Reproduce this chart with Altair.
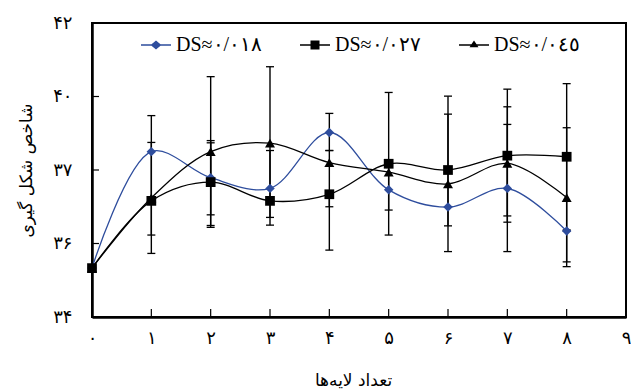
import json
import altair as alt
import pandas as pd

# ---------------- data ----------------
layers_x = [0, 1, 2, 3, 4, 5, 6, 7, 8]
series_names = ["DS≈۰/۰۱۸", "DS≈۰/۰۲۷", "DS≈۰/۰٤٥"]
series_colors = ["#2E4D9D", "#000000", "#000000"]

ds018 = [35.33, 38.50, 37.79, 37.50, 39.02, 37.46, 36.99, 37.50, 36.34]
ds027 = [35.33, 37.16, 37.67, 37.16, 37.34, 38.17, 38.00, 38.39, 38.36]
ds045 = [35.33, 37.24, 38.50, 38.73, 38.20, 37.94, 37.62, 38.18, 37.25]

ds018_low = [None, None, 36.78, 36.50, 38.53, 36.91, None, 35.78, 35.50]
ds018_high = [None, None, 38.80, 38.53, 39.54, 38.17, None, 39.24, 36.34]
ds027_low = [None, 35.73, 36.49, None, 35.82, 36.23, 36.48, 36.58, 36.37]
ds027_high = [None, 38.75, 38.74, None, 37.34, 40.11, 40.01, 40.20, 40.35]
ds045_low = [None, 36.23, 36.44, 36.71, 37.00, None, 35.78, 36.75, 35.37]
ds045_high = [None, 39.48, 40.54, 40.81, 38.53, None, 39.52, 39.72, 39.15]

x_tick_values = [0, 1, 2, 3, 4, 5, 6, 7, 8, 9]
x_tick_labels = ["۰", "۱", "۲", "۳", "۴", "۵", "۶", "۷", "۸", "۹"]
y_tick_values = [34, 36, 38, 40, 42]
y_tick_labels = ["۳۴", "۳۶", "۳۷", "۴۰", "۴۲"]

x_title = "تعداد لایه‌ها"
y_title = "شاخص شکل گیری"

# ---------------- tables ----------------
vals = [ds018, ds027, ds045]
lows = [ds018_low, ds027_low, ds045_low]
highs = [ds018_high, ds027_high, ds045_high]

rows, err_rows = [], []
for name, v, lo, hi in zip(series_names, vals, lows, highs):
    for i, x in enumerate(layers_x):
        rows.append({"x": x, "y": v[i], "series": name})
        if lo[i] is not None and hi[i] is not None:
            err_rows.append({"x": x, "low": lo[i], "high": hi[i], "series": name})
df = pd.DataFrame(rows)
err_df = pd.DataFrame(err_rows)
legend_df = pd.DataFrame({"legend": series_names})

W, H = 534, 294
digit_font = "DejaVu Sans"

x_expr = json.dumps(x_tick_labels, ensure_ascii=False) + "[indexof(" + json.dumps(x_tick_values) + ", datum.value)]"
y_expr = json.dumps(y_tick_labels, ensure_ascii=False) + "[indexof(" + json.dumps(y_tick_values) + ", datum.value)]"

x_scale = alt.Scale(domain=[0, 9], nice=False, zero=False)
y_scale = alt.Scale(domain=[34, 42], nice=False, zero=False)

x_axis = alt.Axis(values=x_tick_values, labelExpr=x_expr, ticks=False, grid=False,
                  domainColor="black", domainWidth=2.5, labelFont=digit_font,
                  labelFontSize=18, labelFontWeight="normal", labelColor="black", labelPadding=12,
                  labelFlush=False, labelOverlap=False,
                  title=x_title, titleFont=digit_font, titleFontSize=17,
                  titleFontWeight="normal", titleColor="black",
                  titleX=W / 2 - 6, titleY=63, titleBaseline="middle")
y_axis = alt.Axis(values=y_tick_values, labelExpr=y_expr, ticks=False, grid=False,
                  domainColor="black", domainWidth=2.5, labelFont=digit_font,
                  labelFontSize=18, labelFontWeight="normal", labelColor="black", labelPadding=20,
                  labelFlush=False, labelOverlap=False,
                  title=y_title, titleFont=digit_font, titleFontSize=17,
                  titleFontWeight="normal", titleColor="black",
                  titleX=-66, titleY=H / 2, titleBaseline="middle")

X = alt.X("x:Q", scale=x_scale, axis=x_axis)
Y = alt.Y("y:Q", scale=y_scale, axis=y_axis)

color_nolegend = alt.Color("series:N", scale=alt.Scale(domain=series_names, range=series_colors), legend=None)

err_rule = alt.Chart(err_df).mark_rule(color="black", strokeWidth=1.4).encode(
    x=X, y=alt.Y("low:Q", scale=y_scale, axis=y_axis), y2="high:Q")
err_cap_lo = alt.Chart(err_df).mark_tick(color="black", orient="horizontal", size=8, thickness=1.3, opacity=1).encode(
    x=X, y=alt.Y("low:Q", scale=y_scale, axis=y_axis))
err_cap_hi = alt.Chart(err_df).mark_tick(color="black", orient="horizontal", size=8, thickness=1.3, opacity=1).encode(
    x=X, y=alt.Y("high:Q", scale=y_scale, axis=y_axis))

lines = alt.Chart(df).mark_line(interpolate="catmull-rom", strokeWidth=1.3).encode(
    x=X, y=Y, color=color_nolegend, detail="series:N")

points = alt.Chart(df).mark_point(filled=True, opacity=1).encode(
    x=X, y=Y, color=color_nolegend,
    shape=alt.Shape("series:N", scale=alt.Scale(domain=series_names, range=["diamond", "square", "triangle-up"]), legend=None),
    size=alt.Size("series:N", scale=alt.Scale(domain=series_names, range=[90, 100, 70]), legend=None))

x_ticks = alt.Chart(pd.DataFrame({"x": x_tick_values[1:-1]})).mark_rule(color="black", strokeWidth=1.2).encode(
    x=X, y=alt.value(H), y2=alt.value(H - 8))
y_ticks = alt.Chart(pd.DataFrame({"y": y_tick_values[1:-1]})).mark_rule(color="black", strokeWidth=1.2).encode(
    y=Y, x=alt.value(0), x2=alt.value(7))

legend_paths = [
    "M-1,-0.045 L-0.3,-0.045 L0,-0.3 L0.3,-0.045 L1,-0.045 L1,0.045 L0.3,0.045 L0,0.3 L-0.3,0.045 L-1,0.045 Z",
    "M-1,-0.045 L-0.3,-0.045 L-0.3,-0.3 L0.3,-0.3 L0.3,-0.045 L1,-0.045 L1,0.045 L0.3,0.045 L0.3,0.3 L-0.3,0.3 L-0.3,0.045 L-1,0.045 Z",
    "M-1,-0.045 L-0.17,-0.045 L0,-0.3 L0.17,-0.045 L1,-0.045 L1,0.045 L0.23,0.045 L0.3,0.15 L-0.3,0.15 L-0.23,0.045 L-1,0.045 Z",
]
leg = alt.Legend(title=None, orient="none", legendX=49, legendY=7, direction="horizontal",
                 symbolSize=900, labelFont="Liberation Serif", labelFontSize=20,
                 labelFontWeight="normal",
                 labelColor="black", columnPadding=37, labelOffset=5, padding=0,
                 symbolStrokeWidth=0, symbolOpacity=1, labelLimit=0)
legend_layer = alt.Chart(legend_df).mark_point(filled=True, opacity=1, clip=True).encode(
    x=alt.value(-100), y=alt.value(-100),
    color=alt.Color("legend:N", scale=alt.Scale(domain=series_names, range=series_colors), legend=leg),
    shape=alt.Shape("legend:N", scale=alt.Scale(domain=series_names, range=legend_paths), legend=leg))

chart = alt.layer(err_rule, err_cap_lo, err_cap_hi, lines, points, x_ticks, y_ticks, legend_layer).resolve_scale(
    color="independent", shape="independent", size="independent"
).properties(
    width=W, height=H,
    autosize=alt.AutoSizeParams(type="none"),
    padding={"left": 92, "top": 23, "right": 5, "bottom": 75},
    background="white",
).configure_view(stroke="black", strokeWidth=2)

chart.save("out.html", embed_options={"renderer": "svg", "actions": False})
